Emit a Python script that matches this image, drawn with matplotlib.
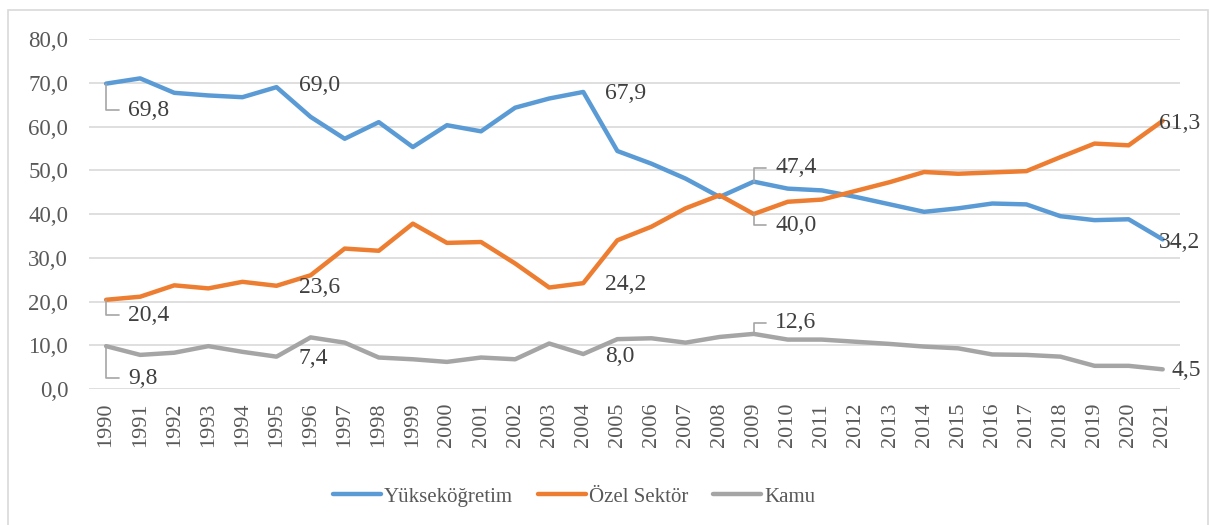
import matplotlib.pyplot as plt
from matplotlib.patches import Rectangle

years = list(range(1990, 2022))

yuksekogretim = [69.8, 71.0, 67.7, 67.1, 66.7, 69.0, 62.2, 57.2, 61.0, 55.3,
                 60.3, 58.9, 64.3, 66.4, 67.9, 54.4, 51.5, 48.1, 43.9, 47.4,
                 45.8, 45.4, 43.9, 42.2, 40.5, 41.3, 42.4, 42.2, 39.5, 38.6,
                 38.8, 34.2]
ozel_sektor = [20.4, 21.1, 23.7, 23.0, 24.5, 23.6, 26.0, 32.1, 31.6, 37.8,
               33.4, 33.6, 28.7, 23.2, 24.2, 34.0, 37.1, 41.3, 44.3, 40.0,
               42.8, 43.3, 45.3, 47.3, 49.6, 49.2, 49.5, 49.8, 53.0, 56.1,
               55.7, 61.3]
kamu = [9.8, 7.8, 8.3, 9.8, 8.5, 7.4, 11.8, 10.6, 7.2, 6.8,
        6.2, 7.2, 6.8, 10.4, 8.0, 11.4, 11.6, 10.6, 11.9, 12.6,
        11.3, 11.3, 10.8, 10.3, 9.7, 9.3, 7.9, 7.8, 7.4, 5.3,
        5.3, 4.5]

series_names = ["Yükseköğretim", "Özel Sektör", "Kamu"]
labelled_years = [1990, 1995, 2004, 2009, 2021]

colors = ["#5B9BD5", "#ED7D31", "#A5A5A5"]
text_color = "#595959"
grid_color = "#D9D9D9"

# label offsets in points (dx, dy, leader line?)
label_offsets = [
    {1990: (16, -19, True), 1995: (16, 1, False), 2004: (16, -1, False),
     2009: (15.5, 10, True), 2021: (-3, -2, False)},
    {1990: (16, -11, True), 1995: (16, -1, False), 2004: (16, -1, False),
     2009: (15.5, -8, True), 2021: (-3, -2, False)},
    {1990: (16, -23, True), 1995: (16, -1, False), 2004: (16, -2, False),
     2009: (15.5, 8, True), 2021: (6, -1, False)},
]

plt.rcParams['font.family'] = ['Liberation Serif', 'DejaVu Serif']

fig = plt.figure(figsize=(12.1, 5.25), dpi=100)
ax = fig.add_axes([0.0736, 0.259, 0.9014, 0.6667])

# chart frame (bottom edge falls outside the picture)
fig.patches.append(Rectangle((8 / 1210, -20 / 525), 1200 / 1210, 535 / 525,
                             transform=fig.transFigure, fill=False,
                             edgecolor=grid_color, linewidth=1.2))

all_series = [yuksekogretim, ozel_sektor, kamu]
for vals, name, c in zip(all_series, series_names, colors):
    ax.plot(years, vals, color=c, linewidth=3.2, label=name,
            solid_capstyle='round', solid_joinstyle='round', zorder=3)

for vals, c, offs in zip(all_series, colors, label_offsets):
    for yr in labelled_years:
        v = vals[years.index(yr)]
        dx, dy, leader = offs[yr]
        txt = f"{v:.1f}".replace(".", ",")
        kw = {}
        if leader:
            kw["arrowprops"] = dict(arrowstyle='-', color="#A5A5A5", lw=1.2,
                                    connectionstyle="angle,angleA=0,angleB=90,rad=0",
                                    shrinkA=5, shrinkB=0, relpos=(0, 0.5))
        ax.annotate(txt, xy=(yr, v), xytext=(dx, dy), textcoords='offset points',
                    ha='left', va='center', fontsize=17, color="#404040",
                    zorder=5, **kw)

ax.set_xlim(1989.5, 2021.5)
ax.set_ylim(0, 80)
ax.set_yticks(range(0, 81, 10))
ax.set_yticklabels([f"{t:.1f}".replace(".", ",") for t in range(0, 81, 10)])
ax.set_xticks(years)
ax.set_xticklabels([str(y) for y in years], rotation=90)
ax.tick_params(axis='y', length=0, pad=15, labelsize=16.5, labelcolor=text_color)
ax.tick_params(axis='x', length=0, pad=10, labelsize=16, labelcolor=text_color)
ax.grid(axis='y', color=grid_color, linewidth=1.2, zorder=0)
for s in ax.spines.values():
    s.set_visible(False)

fig.legend(loc='center', bbox_to_anchor=(574 / 1210, 1 - 497 / 525), ncol=3,
           frameon=False, fontsize=15, handlelength=2.3, handletextpad=0.15,
           columnspacing=1.2, labelcolor=text_color)

fig.savefig("out.png", dpi=100)
